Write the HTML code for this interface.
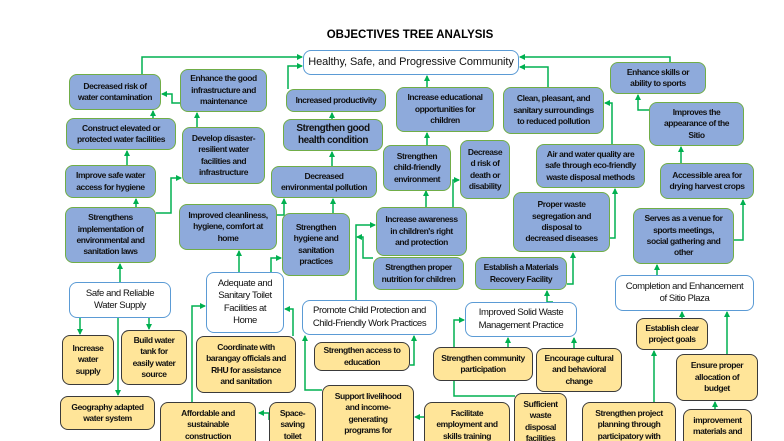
<!DOCTYPE html>
<html><head><meta charset="utf-8">
<style>
html,body{margin:0;padding:0;background:#fff;}
#c{position:relative;width:784px;height:441px;overflow:hidden;font-family:"Liberation Sans",Arial,sans-serif;}
.b{position:absolute;box-sizing:border-box;display:flex;align-items:center;justify-content:center;text-align:center;border-radius:8px;font-size:8.5px;font-weight:bold;letter-spacing:-0.45px;line-height:11.4px;color:#111;padding:0;white-space:nowrap;}
.bl{background:#8eaadb;border:1.5px solid #70ad47;}
.y{background:#ffe599;border:1.5px solid #3a3a3a;}
.w{background:#fff;border:1.5px solid #5b9bd5;font-size:9.5px;line-height:12.5px;font-weight:normal;letter-spacing:-0.4px;}
.tp{align-items:flex-start;padding-top:5px;}
svg{position:absolute;left:0;top:0;}
.t{position:absolute;left:300px;top:29px;width:220px;text-align:center;font-weight:bold;font-size:11.5px;}
</style></head><body><div id="c">
<svg width="784" height="441">
<defs><marker id="a" markerWidth="6" markerHeight="6" refX="5" refY="3" orient="auto" markerUnits="userSpaceOnUse"><path d="M0,0 L6,3 L0,6 z" fill="#00b050"/></marker></defs>
<g fill="none" stroke="#00b050" stroke-width="1.5" marker-end="url(#a)">
<polyline points="142,74 142,57 302,57"/>
<polyline points="288,89 288,66 302,66"/>
<polyline points="427,87 427,76"/>
<polyline points="548,87 548,67 520,67"/>
<polyline points="670,62 670,57 520,57"/>
<polyline points="180,103 172,103 172,94 162,94"/>
<polyline points="153,118 153,111"/>
<polyline points="197,127 197,113"/>
<polyline points="127,165 127,151"/>
<polyline points="136,207 136,199"/>
<polyline points="156,213 171,213 171,178 181,178"/>
<polyline points="120,282 120,264"/>
<polyline points="80,318 80,334"/>
<polyline points="149,318 149,329"/>
<polyline points="118,318 118,395"/>
<polyline points="239,272 239,251"/>
<polyline points="271,272 271,258 281,258"/>
<polyline points="293,336 293,309 285,309"/>
<polyline points="192,402 192,306 205,306"/>
<polyline points="269,420 269,413 259,413"/>
<polyline points="277,215 284,215 284,199"/>
<polyline points="333,213 333,199"/>
<polyline points="332,166 332,152"/>
<polyline points="332,119 332,113"/>
<polyline points="356,300 356,225 375,225"/>
<polyline points="373,258 363,258 363,237 357,237"/>
<polyline points="426,207 426,191"/>
<polyline points="453,207 453,180 459,180"/>
<polyline points="427,145 427,133"/>
<polyline points="410,365 414,365 414,336"/>
<polyline points="322,390 305,390 305,336"/>
<polyline points="424,417 415,417"/>
<polyline points="553,302 547,302 547,291"/>
<polyline points="567,284 573,284 573,253"/>
<polyline points="610,238 615,238 615,189"/>
<polyline points="612,144 612,103 605,103"/>
<polyline points="508,347 508,338"/>
<polyline points="515,396 454,396 454,320 464,320"/>
<polyline points="574,348 574,338"/>
<polyline points="682,318 682,312"/>
<polyline points="657,275 657,265"/>
<polyline points="734,240 743,240 743,200"/>
<polyline points="681,163 681,147"/>
<polyline points="649,110 638,110 638,95"/>
<polyline points="727,354 727,312"/>
<polyline points="715,409 715,402"/>
<polyline points="654,402 654,351"/>
</g></svg>
<div class="t">OBJECTIVES TREE ANALYSIS</div>
<div class="b w" style="left:303px;top:50px;width:216px;height:25px;font-size:11px;letter-spacing:-0.1px;">Healthy, Safe, and Progressive Community</div>

<div class="b bl" style="left:69px;top:74px;width:92px;height:36px;">Decreased risk of<br>water contamination</div>
<div class="b bl" style="left:180px;top:69px;width:87px;height:43px;">Enhance the good<br>infrastructure and<br>maintenance</div>
<div class="b bl" style="left:66px;top:118px;width:110px;height:32px;">Construct elevated or<br>protected water facilities</div>
<div class="b bl" style="left:182px;top:127px;width:83px;height:57px;">Develop disaster-<br>resilient water<br>facilities and<br>infrastructure</div>
<div class="b bl" style="left:65px;top:165px;width:91px;height:33px;">Improve safe water<br>access for hygiene</div>
<div class="b bl" style="left:65px;top:207px;width:91px;height:56px;">Strengthens<br>implementation of<br>environmental and<br>sanitation laws</div>
<div class="b bl" style="left:286px;top:89px;width:100px;height:23px;">Increased productivity</div>
<div class="b bl" style="left:283px;top:119px;width:100px;height:32px;font-size:10px;line-height:12.5px;">Strengthen good<br>health condition</div>
<div class="b bl" style="left:271px;top:166px;width:106px;height:32px;">Decreased<br>environmental pollution</div>
<div class="b bl" style="left:179px;top:204px;width:98px;height:46px;">Improved cleanliness,<br>hygiene, comfort at<br>home</div>
<div class="b bl" style="left:282px;top:213px;width:68px;height:63px;">Strengthen<br>hygiene and<br>sanitation<br>practices</div>
<div class="b bl" style="left:396px;top:87px;width:98px;height:45px;">Increase educational<br>opportunities for<br>children</div>
<div class="b bl" style="left:383px;top:145px;width:68px;height:46px;">Strengthen<br>child-friendly<br>environment</div>
<div class="b bl" style="left:460px;top:140px;width:50px;height:59px;">Decrease<br>d risk of<br>death or<br>disability</div>
<div class="b bl" style="left:376px;top:207px;width:91px;height:49px;">Increase awareness<br>in children's right<br>and protection</div>
<div class="b bl" style="left:373px;top:257px;width:91px;height:33px;">Strengthen proper<br>nutrition for children</div>
<div class="b bl" style="left:503px;top:87px;width:101px;height:47px;">Clean, pleasant, and<br>sanitary surroundings<br>to reduced pollution</div>
<div class="b bl" style="left:610px;top:62px;width:96px;height:32px;">Enhance skills or<br>ability to sports</div>
<div class="b bl" style="left:649px;top:102px;width:95px;height:44px;">Improves the<br>appearance of the<br>Sitio</div>
<div class="b bl" style="left:536px;top:144px;width:109px;height:44px;">Air and water quality are<br>safe through eco-friendly<br>waste disposal methods</div>
<div class="b bl" style="left:660px;top:163px;width:94px;height:36px;">Accessible area for<br>drying harvest crops</div>
<div class="b bl" style="left:513px;top:192px;width:97px;height:60px;">Proper waste<br>segregation and<br>disposal to<br>decreased diseases</div>
<div class="b bl" style="left:633px;top:208px;width:101px;height:56px;">Serves as a venue for<br>sports meetings,<br>social gathering and<br>other</div>
<div class="b bl" style="left:475px;top:257px;width:92px;height:33px;">Establish a Materials<br>Recovery Facility</div>

<div class="b w" style="left:615px;top:275px;width:139px;height:36px;">Completion and Enhancement<br>of Sitio Plaza</div>
<div class="b w" style="left:69px;top:282px;width:102px;height:36px;">Safe and Reliable<br>Water Supply</div>
<div class="b w" style="left:206px;top:272px;width:78px;height:61px;">Adequate and<br>Sanitary Toilet<br>Facilities at<br>Home</div>
<div class="b w" style="left:302px;top:300px;width:135px;height:35px;">Promote Child Protection and<br>Child-Friendly Work Practices</div>
<div class="b w" style="left:465px;top:302px;width:112px;height:35px;">Improved Solid Waste<br>Management Practice</div>

<div class="b y" style="left:62px;top:335px;width:52px;height:50px;">Increase<br>water<br>supply</div>
<div class="b y" style="left:121px;top:330px;width:66px;height:55px;">Build water<br>tank for<br>easily water<br>source</div>
<div class="b y" style="left:196px;top:336px;width:100px;height:57px;">Coordinate with<br>barangay officials and<br>RHU for assistance<br>and sanitation</div>
<div class="b y" style="left:314px;top:342px;width:96px;height:29px;">Strengthen access to<br>education</div>
<div class="b y" style="left:433px;top:347px;width:100px;height:34px;">Strengthen community<br>participation</div>
<div class="b y" style="left:536px;top:348px;width:86px;height:44px;">Encourage cultural<br>and behavioral<br>change</div>
<div class="b y" style="left:636px;top:318px;width:72px;height:32px;">Establish clear<br>project goals</div>
<div class="b y" style="left:676px;top:354px;width:82px;height:47px;">Ensure proper<br>allocation of<br>budget</div>
<div class="b y" style="left:60px;top:396px;width:95px;height:34px;">Geography adapted<br>water system</div>
<div class="b y tp" style="left:160px;top:402px;width:96px;height:50px;">Affordable and<br>sustainable<br>construction</div>
<div class="b y tp" style="left:269px;top:402px;width:47px;height:50px;">Space-<br>saving<br>toilet</div>
<div class="b y tp" style="left:322px;top:385px;width:92px;height:66px;">Support livelihood<br>and income-<br>generating<br>programs for</div>
<div class="b y tp" style="left:424px;top:402px;width:86px;height:50px;">Facilitate<br>employment and<br>skills training</div>
<div class="b y tp" style="left:514px;top:393px;width:53px;height:58px;">Sufficient<br>waste<br>disposal<br>facilities</div>
<div class="b y tp" style="left:582px;top:402px;width:94px;height:50px;">Strengthen project<br>planning through<br>participatory with</div>
<div class="b y tp" style="left:683px;top:409px;width:69px;height:45px;">improvement<br>materials and</div>
</div></body></html>
